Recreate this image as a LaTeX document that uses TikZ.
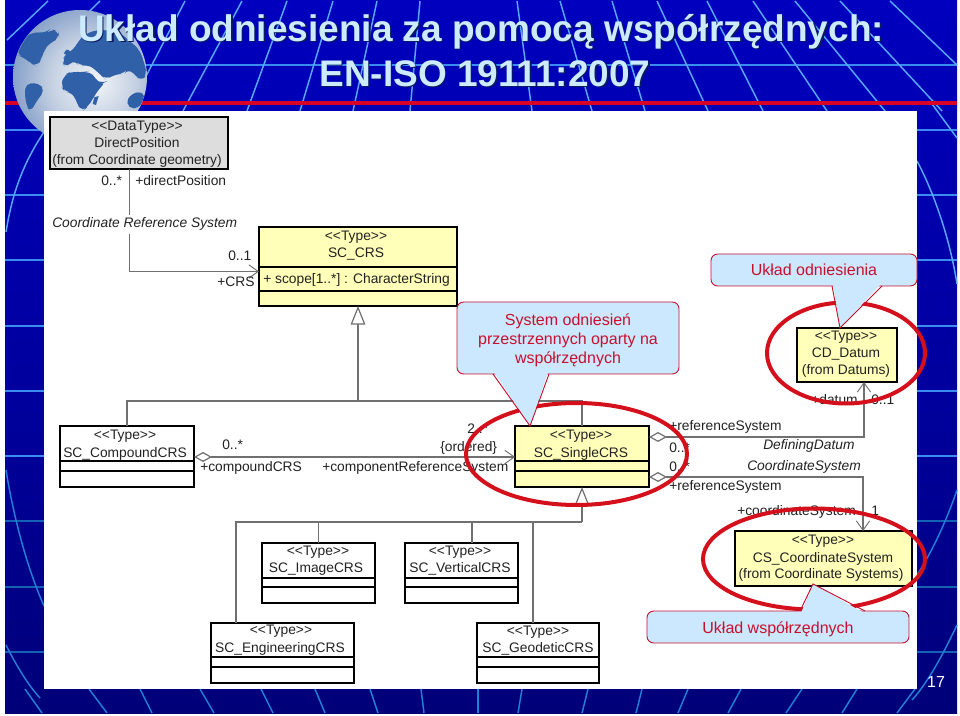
\documentclass[tikz,border=0pt]{standalone}
\usepackage{fontspec}
\setmainfont{Liberation Sans}
\usetikzlibrary{arrows.meta,fit}
\definecolor{boxy}{HTML}{FFFFB9}
\definecolor{boxg}{HTML}{DDDDDD}
\definecolor{calfill}{HTML}{CCE8FF}
\definecolor{calred}{HTML}{C8102E}
\definecolor{ringred}{HTML}{D4101C}
\definecolor{conn}{HTML}{707070}
\definecolor{gridt}{HTML}{3A8CF0}
\definecolor{gridb}{HTML}{1562B4}
\definecolor{diagt}{HTML}{58A8FF}
\definecolor{diagb}{HTML}{2080D8}
\definecolor{land}{HTML}{2F60A8}
\definecolor{titlec}{HTML}{CDEBFF}
\definecolor{inkc}{HTML}{222222}
\definecolor{shadowc}{HTML}{0A1A60}
\definecolor{bga}{HTML}{00004E}
\definecolor{bgb}{HTML}{00009A}
\definecolor{bgc}{HTML}{0000C4}
\definecolor{gla}{HTML}{F2F5F8}
\definecolor{glb}{HTML}{C4D0E2}
\definecolor{glc}{HTML}{6F8FC0}
\definecolor{gld}{HTML}{4470B0}
\pgfdeclareverticalshading{bgsh}{100bp}{color(0bp)=(bga); color(45bp)=(bgb); color(80bp)=(bgc); color(100bp)=(bgc)}
\pgfdeclareradialshading{globesh}{\pgfpoint{6bp}{-2bp}}{color(0bp)=(gla); color(16bp)=(glb); color(34bp)=(glc); color(50bp)=(gld); color(80bp)=(gld)}
\tikzset{
  umlbox/.style={draw=black,line width=1.5pt,inner sep=0pt,outer sep=0pt},
  lbl/.style={font=\fontsize{10.35}{12}\selectfont,text=inkc,inner sep=0pt,anchor=base west},
  lblc/.style={lbl,anchor=base},
  ital/.style={lbl,font=\fontsize{10.35}{12}\selectfont\itshape},
  callout/.style={draw=calred,line width=.7pt,fill=calfill,rounded corners=5pt},
  caltext/.style={font=\fontsize{12}{14}\selectfont,text=calred,inner sep=0pt,anchor=base},
  ring/.style={draw=ringred,line width=3pt},
  conline/.style={draw=conn,line width=.9pt},
  grid1/.style={draw=gridt,line width=.9pt},
  grid2/.style={draw=gridb,line width=.9pt},
  diag1/.style={draw=diagt,line width=1.1pt},
  diag2/.style={draw=diagb,line width=1.1pt},
  titlet/.style={font=\fontsize{27.75}{30}\bfseries\selectfont,text=titlec,inner sep=0pt,anchor=base},
  titles/.style={font=\fontsize{27.75}{30}\bfseries\selectfont,text=shadowc,inner sep=0pt,anchor=base},
  opena/.style={-{Straight Barb[length=7pt,width=10pt,line width=.7pt]}},
  gena/.style={-{Triangle[open,fill=white,length=14pt,width=11pt]}},
  aggr/.style={{Diamond[open,fill=white,length=13.5pt,width=7.5pt]}-{Straight Barb[length=7pt,width=10pt,line width=.7pt]}},
}
\newcommand{\umlnode}[6]{\node[umlbox,fill=#6,fit={(#2,#3)(#4,#5)}] (#1) {};}
\begin{document}
\begin{tikzpicture}[x=.75pt,y=-.75pt]
\useasboundingbox (0,0) rectangle (960,716);
\fill[white] (0,0) rectangle (960,716);
\path[shading=bgsh] (5,1) rectangle (957,713.5);
% grid
\foreach \yy in {65,130,195,260,326,391,456} \draw[grid1] (5,\yy) -- (957,\yy);
\foreach \yy in {521,587,652} \draw[grid2] (5,\yy) -- (957,\yy);
\foreach \xa/\ya/\xb/\yb in {48/1/7/40,100/1/60/40,185/1/128/111,242/1/183/111,287/1/247/111,333/1/300/111,377/1/353/111,420/1/410/111,517/1/532/111,560/1/592/111,612/1/645/111,657/1/708/111,707/1/763/111,753/1/827/111,795/1/885/111,840/1/942/111,890/1/957/65}
  {\draw[diag1] (\xa,\ya) -- (\xb,\yb);}
\foreach \xa/\xb in {25/42,89/107,140/152,200/214,261/273,315/325,370/378,421/424,478/478,522/518,588/582,642/636,688/678,741/728,802/786,857/842,915/897}
  {\draw[diag2] (\xa,689) -- (\xb,713);}
\draw[diag1] (44,132) .. controls (22,165) and (12,195) .. (6,232);
\draw[diag2] (6,470) .. controls (14,520) and (28,570) .. (44,606);
\draw[diag2] (6,645) .. controls (16,665) and (28,685) .. (40,698);
\draw[diag1] (917,161) .. controls (935,195) and (950,240) .. (957,284);
\draw[diag1] (932,104) -- (957,138);
\draw[diag2] (957,490) .. controls (945,525) and (930,555) .. (917,575);
\draw[diag2] (957,625) .. controls (945,650) and (930,680) .. (912,700);
% red rule
\fill[red!85!blue] (5,101.5) rectangle (957,105.5);
% globe
\path[shading=globesh] (80,77) circle[radius=67];
\begin{scope}[xscale=1/3,yscale=1/3]
\clip (240,232) circle[radius=200];
\fill[land,rounded corners=5pt] (60,122) -- (100,95) -- (138,100) -- (150,88) -- (175,92) -- (178,115) -- (150,128) -- (132,150) -- (125,175) -- (112,200) -- (92,190) -- (72,172) -- (50,165) -- cycle;
\fill[land,rounded corners=4pt] (78,250) -- (118,250) -- (134,272) -- (112,300) -- (92,335) -- (80,320) -- (74,280) -- cycle;
\fill[land,rounded corners=5pt] (182,258) -- (192,225) -- (215,214) -- (250,218) -- (270,212) -- (288,240) -- (305,252) -- (318,245) -- (290,275) -- (280,295) -- (262,322) -- (245,335) -- (228,305) -- (220,278) -- (195,276) -- cycle;
\fill[land,rounded corners=5pt] (222,150) -- (235,122) -- (258,100) -- (300,88) -- (360,98) -- (420,150) -- (442,220) -- (425,245) -- (402,222) -- (385,205) -- (372,222) -- (345,222) -- (318,240) -- (302,225) -- (285,208) -- (262,192) -- (238,200) -- (225,178) -- (195,205) -- (186,180) -- (200,160) -- cycle;
\fill[land,rounded corners=3pt] (190,152) -- (210,146) -- (212,165) -- (195,168) -- cycle;
\fill[land,rounded corners=4pt] (380,295) -- (415,272) -- (440,290) -- (415,325) -- (385,325) -- cycle;
\fill[land] (283,292) -- (296,288) -- (288,315) -- (278,312) -- cycle;
\end{scope}
% title
\node[titles] (ts1) at (482.5,43) {Układ odniesienia za pomocą współrzędnych:};
\node[titles] (ts2) at (486.5,88) {EN-ISO 19111:2007};
\node[titlet] (t1) at (481,41.5) {Układ odniesienia za pomocą współrzędnych:};
\node[titlet] (t2) at (485,86.5) {EN-ISO 19111:2007};
% white area
\fill[white] (44,111) rectangle (917,689);
\node[font=\fontsize{12}{14}\selectfont,text=white,inner sep=0pt,anchor=base] (pg) at (936,687) {17};
% boxes
\umlnode{dp}{49.5}{117}{228}{169}{boxg}
\umlnode{crs}{259}{227}{457}{306}{boxy}
\umlnode{datum}{797}{328}{897}{382}{boxy}
\umlnode{single}{515}{426}{649}{487}{boxy}
\umlnode{compound}{60}{426}{194}{487}{white}
\umlnode{image}{262}{543}{375}{603}{white}
\umlnode{vertical}{405}{543}{518}{603}{white}
\umlnode{engin}{211}{623}{354}{683}{white}
\umlnode{geod}{477}{623}{599}{683}{white}
\umlnode{cs}{735}{531}{912}{586}{boxy}
\foreach \n/\yy/\zz in {crs/267/291,single/461/471,compound/461/471,image/578/587,vertical/578/587,engin/657/667,geod/657/667}{
  \draw[line width=1.5pt] (\n.west |- 0,\yy) -- (\n.east |- 0,\yy);
  \draw[line width=1.5pt] (\n.west |- 0,\zz) -- (\n.east |- 0,\zz);
}
% connectors
\coordinate (bus1) at (crs.south |- 0,401);
\coordinate (bus2) at (single.south |- 0,522);
\coordinate (eng) at ([shift={(-46.5,0)}]engin.north);
\coordinate (ver) at ([shift={(10.5,0)}]vertical.north);
\coordinate (geo) at ([shift={(-5,0)}]geod.north);
\draw[conline] (compound.north) |- (single.north |- bus1) -- (single.north);
\draw[conline,gena] (bus1) -- (crs.south);
\draw[conline] (eng) |- (bus2);
\draw[conline,gena] (bus2) -- (single.south);
\draw[conline] (image.north) -- (image.north |- bus2);
\draw[conline] (ver) -- (ver |- bus2);
\draw[conline] (geo) -- (geo |- bus2);
\draw[conline,opena] ([shift={(-9,0)}]dp.south) |- (crs.west |- 0,271.5);
\draw[conline,aggr] (compound.east |- 0,457) -- (single.west |- 0,457);
\coordinate (dm) at ([shift={(17,0)}]datum.south);
\coordinate (cm) at ([shift={(39.5,0)}]cs.north);
\draw[conline,aggr] (single.east |- 0,437) -| (dm);
\draw[conline,aggr] (single.east |- 0,477) -| (cm);
% box texts
\node[lblc] (a1) at (137,131) {<{}<DataType>{}>};
\node[lblc] (a2) at (137,148) {DirectPosition};
\node[lblc] (a3) at (137,165) {(from Coordinate geometry)};
\node[lblc] (b1) at (356,241) {<{}<Type>{}>};
\node[lblc] (b2) at (356,258) {SC\_CRS};
\node[lbl] (b3) at (263,284) {+ scope[1..*] : CharacterString};
\node[lblc] (c1) at (846,341) {<{}<Type>{}>};
\node[lblc] (c2) at (846,358) {CD\_Datum};
\node[lblc] (c3) at (846,375) {(from Datums)};
\node[lblc] (d1) at (581,439) {<{}<Type>{}>};
\node[lblc] (d2) at (581,457) {SC\_SingleCRS};
\node[lblc] (e1t) at (125,439) {<{}<Type>{}>};
\node[lblc] (e2t) at (125,457) {SC\_CompoundCRS};
\node[lblc] (f1) at (318,555) {<{}<Type>{}>};
\node[lblc] (f2) at (316,572) {SC\_ImageCRS};
\node[lblc] (g1) at (460,555) {<{}<Type>{}>};
\node[lblc] (g2) at (460,572) {SC\_VerticalCRS};
\node[lblc] (h1) at (281,634) {<{}<Type>{}>};
\node[lblc] (h2) at (280,652) {SC\_EngineeringCRS};
\node[lblc] (i1) at (538,635) {<{}<Type>{}>};
\node[lblc] (i2) at (538,652) {SC\_GeodeticCRS};
\node[lblc] (j1) at (823,544) {<{}<Type>{}>};
\node[lblc] (j2) at (823,562) {CS\_CoordinateSystem};
\node[lblc] (j3) at (821,578) {(from Coordinate Systems)};
% connector labels
\node[lbl] (k1) at (101,186) {0..*};
\node[lbl] (k2) at (135,186) {+directPosition};
\node[ital,fill=white,inner ysep=2pt] (k3) at (52,228) {Coordinate Reference System};
\node[lbl] (k4) at (228,261) {0..1};
\node[lbl] (k5) at (217,287) {+CRS};
\node[lbl] (k6) at (811,404) {+datum};
\node[lbl] (k7) at (871,404) {0..1};
\node[lbl] (k8) at (669,431) {+referenceSystem};
\node[lbl] (k9) at (669,452) {0..*};
\node[ital] (k10) at (763,449) {DefiningDatum};
\node[ital] (k11) at (747,470) {CoordinateSystem};
\node[lbl] (k12) at (669,471) {0..*};
\node[lbl] (k13) at (669,490) {+referenceSystem};
\node[lbl] (k14) at (737,515) {+coordinateSystem};
\node[lbl] (k15) at (871,515) {1};
\node[lbl] (k16) at (467,433) {2..*};
\node[lbl] (k17) at (440,451) {\{ordered\}};
\node[lbl] (k18) at (222,450) {0..*};
\node[lbl] (k19) at (200,471) {+compoundCRS};
\node[lbl] (k20) at (322,471) {+componentReferenceSystem};
% rings
\draw[ring] (846,353) ellipse[x radius=79,y radius=50.5];
\draw[ring] (576.5,454) ellipse[x radius=110.5,y radius=51];
\draw[ring] (814,559) ellipse[x radius=111,y radius=50.5];
% callouts
\draw[callout] (711,254) rectangle (917,286);
\draw[callout] (457,302) rectangle (679,374);
\draw[callout] (647,611) rectangle (909,643);
\fill[calfill] (833,284) -- (840,328) -- (881,284) -- cycle;
\draw[calred,line width=.7pt] (832,286) -- (840,328) -- (882,286);
\fill[calfill] (494,372) -- (530,426) -- (548,372) -- cycle;
\draw[calred,line width=.7pt] (493,374) -- (530,426) -- (549,374);
\fill[calfill] (801,613) -- (813,584) -- (864,613) -- cycle;
\draw[calred,line width=.7pt] (800,611) -- (813,584) -- (865,611);
\node[caltext] (m1) at (814,276) {Układ odniesienia};
\node[caltext] (m2) at (568,326) {System odniesień};
\node[caltext] (m3) at (568,345) {przestrzennych oparty na};
\node[caltext] (m4) at (568,364) {współrzędnych};
\node[caltext] (m5) at (778,633) {Układ współrzędnych};
\end{tikzpicture}
\end{document}
